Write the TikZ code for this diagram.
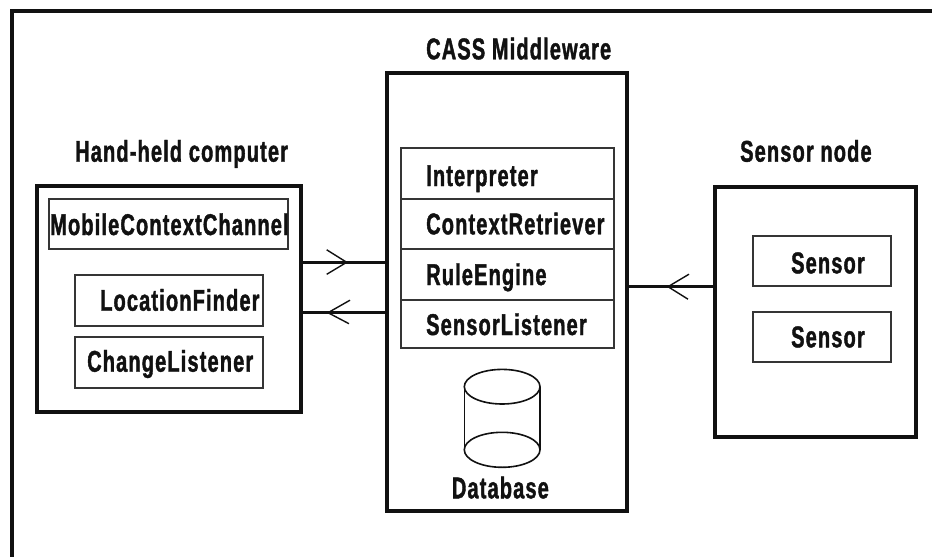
\documentclass[tikz,border=0pt]{standalone}
\usepackage{fontspec}
\newfontfamily\labelfont[FakeStretch=0.667,LetterSpace=3.8,BoldFont=Liberation Sans Bold,BoldFeatures={FakeBold=1.3}]{Liberation Sans}
\definecolor{ink}{HTML}{111111}
\tikzset{
  heavybox/.style={draw=ink,line width=4pt,rectangle,anchor=north west,inner sep=0pt,outer sep=0pt},
  thinbox/.style={draw=ink!85,line width=1.8pt,rectangle,anchor=north west,inner sep=0pt,outer sep=0pt},
  txt/.style={anchor=base west,inner sep=0pt,text=ink,font=\labelfont\bfseries\fontsize{30}{30}\selectfont},
  conn/.style={draw=ink,line width=3.5pt},
  wing/.style={draw=ink,line width=1.4pt},
  cyl/.style={draw=ink,line width=1.6pt},
  frame/.style={draw=ink,line width=4pt}
}
\begin{document}
\begin{tikzpicture}[x=1pt,y=-1pt]
\useasboundingbox (0,0) rectangle (932,557);
\fill[white] (0,0) rectangle (932,557);
% outer frame
\coordinate (fa) at (12,557);
\coordinate (fb) at (12,11);
\coordinate (fc) at (932,11);
\draw[frame] (fa) -- (fb) -- (fc);
% boxes
\node[heavybox,minimum width=264pt,minimum height=226pt] (hand) at (37,186) {};
\node[heavybox,minimum width=239.5pt,minimum height=437.7pt] (mid) at (387.3,73.3) {};
\node[heavybox,minimum width=200.7pt,minimum height=250pt] (sens) at (715,186.7) {};
% hand-held inner
\node[thinbox,minimum width=239pt,minimum height=50pt] (mcc) at (49,199) {};
\node[thinbox,minimum width=188pt,minimum height=51pt] (lf) at (75,275) {};
\node[thinbox,minimum width=188pt,minimum height=51pt] (cl) at (75,337) {};
% stack
\node[thinbox,minimum width=213.3pt,minimum height=50.7pt] (s1) at (400.7,148.3) {};
\node[thinbox,minimum width=213.3pt,minimum height=50.3pt] (s2) at (400.7,199) {};
\node[thinbox,minimum width=213.3pt,minimum height=50.7pt] (s3) at (400.7,249.3) {};
\node[thinbox,minimum width=213.3pt,minimum height=48.3pt] (s4) at (400.7,300) {};
% sensors
\node[thinbox,minimum width=138.3pt,minimum height=50pt] (n1) at (752.7,236) {};
\node[thinbox,minimum width=138.3pt,minimum height=50.3pt] (n2) at (752.7,311.7) {};
% labels
\node[txt] (t1) at (75,161.7) {Hand-held computer};
\node[txt] (t2) at (426,59.3) {CASS Middleware};
\node[txt] (t3) at (740,161.7) {Sensor node};
\node[txt] (t4) at (50,235) {MobileContextChannel};
\node[txt] (t5) at (100,310.7) {LocationFinder};
\node[txt] (t6) at (87,371.7) {ChangeListener};
\node[txt] (t7) at (426,186) {Interpreter};
\node[txt] (t8) at (426,234.3) {ContextRetriever};
\node[txt] (t9) at (426,285) {RuleEngine};
\node[txt] (t10) at (426,335) {SensorListener};
\node[txt] (t11) at (791,273.3) {Sensor};
\node[txt] (t12) at (791,347.3) {Sensor};
\node[txt] (t13) at (451.7,498.3) {Database};
% connectors
\coordinate (ya) at (340,262.3);
\coordinate (yb) at (340,312.7);
\coordinate (yc) at (670,286.7);
\draw[conn] (hand.east |- ya) -- (mid.west |- ya);
\draw[conn] (hand.east |- yb) -- (mid.west |- yb);
\draw[conn] (mid.east |- yc) -- (sens.west |- yc);
\coordinate (h1) at (346.7,262.3);
\coordinate (h2) at (328,312.7);
\coordinate (h3) at (668,286.7);
\draw[wing] ([shift={(-20,-12.5)}]h1) -- (h1) -- ([shift={(-20,12)}]h1);
\draw[wing] ([shift={(22,-12.5)}]h2) -- (h2) -- ([shift={(21,11)}]h2);
\draw[wing] ([shift={(21,-12.5)}]h3) -- (h3) -- ([shift={(20,12.5)}]h3);
% database
\draw[cyl] (502.15,386.7) ellipse [x radius=37.85,y radius=17.3];
\draw[cyl] (502.15,449.8) ellipse [x radius=37.85,y radius=17.5];
\draw[cyl] (464.3,386.7) -- (464.3,449.8);
\draw[cyl] (540,386.7) -- (540,449.8);
\end{tikzpicture}
\end{document}
